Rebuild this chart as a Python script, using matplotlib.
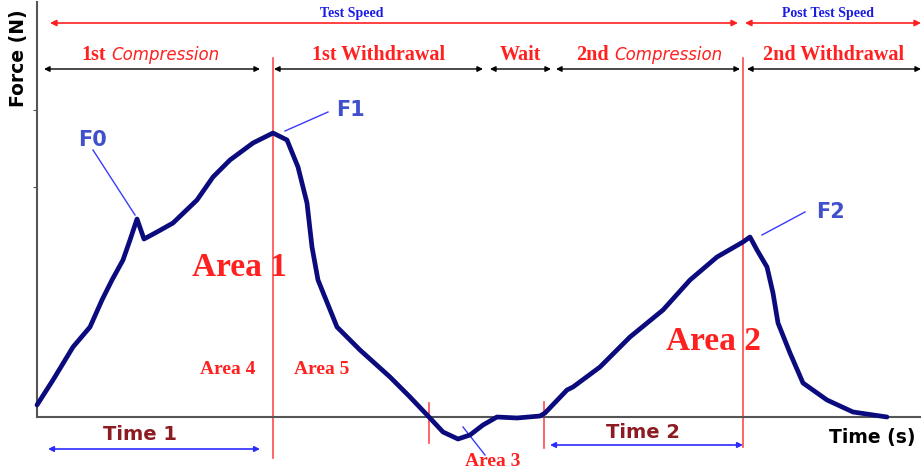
import matplotlib.pyplot as plt
import numpy as np

# -------------------------
# Data: force-time curve (arbitrary units)
# -------------------------
time_s = [0.0, 1.6, 3.6, 5.3, 6.5, 7.5, 8.6, 9.3, 10.0, 10.7, 12.0, 13.6, 16.0,
          17.6, 19.3, 21.6, 23.6, 25.0, 26.1, 27.0, 27.5, 28.1, 30.0, 32.3,
          35.3, 37.3, 39.2, 40.6, 42.1, 43.3, 44.6, 46.0, 48.0, 50.3, 50.8,
          53.0, 53.6, 56.3, 59.3, 62.6, 65.3, 68.0, 70.6, 71.3, 72.0, 73.0,
          73.6, 74.1, 75.3, 76.6, 79.0, 81.6, 85.0]
force_n = [1.2, 3.7, 7.0, 9.0, 11.7, 13.7, 15.7, 17.7, 19.8, 17.8, 18.5, 19.4, 21.7,
           24.0, 25.7, 27.4, 28.4, 27.7, 25.0, 21.4, 17.0, 13.7, 9.0, 6.7,
           4.0, 2.0, 0.0, -1.5, -2.2, -1.8, -0.8, 0.0, -0.1, 0.1, 0.4,
           2.7, 3.0, 5.0, 8.0, 10.7, 13.7, 16.0, 17.5, 18.0, 16.7, 15.0,
           12.4, 9.4, 6.4, 3.4, 1.7, 0.5, 0.0]

# phase segments (start, end) along the time axis
phase_names = ['1st Withdrawal', 'Wait', '2nd Withdrawal']
phase_spans = [(23.7, 44.6), (45.3, 51.4), (71.0, 88.4)]
compression_spans = [(0.7, 22.3), (51.9, 70.3)]
speed_names = ['Test Speed', 'Post Test Speed']
speed_spans = [(1.3, 70.1), (70.8, 88.4)]
speed_label_x = [31.5, 79.1]

# marker lines
long_marks = [23.6, 70.6]
short_marks = [39.2, 50.7]

RED = '#ff2020'
LINE_RED = '#ff4a4a'
NAVY = '#0b0b7e'
FBLUE = '#4050cc'
DARKRED = '#8c1c22'
serif = 'Liberation Serif'

fig = plt.figure(figsize=(9.21, 4.70), dpi=100)
ax = fig.add_axes([0, 0, 1, 1])
ax.set_xlim(-3.7, 88.4)
ax.set_ylim(-5.3, 41.7)

# axes lines
for s in ['top', 'right']:
    ax.spines[s].set_visible(False)
ax.spines['left'].set_position(('data', 0))
ax.spines['bottom'].set_position(('data', 0))
ax.spines['left'].set_bounds(0, 41.5)
ax.spines['bottom'].set_bounds(0, 88.4)
for s in ['left', 'bottom']:
    ax.spines[s].set_color('#555555')
    ax.spines[s].set_linewidth(1.5)
ax.set_xticks([])
ax.set_yticks([23.0, 30.7])
ax.set_yticklabels([])
ax.tick_params(axis='y', length=3, color='#555555')

# red marker lines
ax.plot([long_marks[0]] * 2, [-4.1, 35.9], color=LINE_RED, lw=1.2, zorder=1)
ax.plot([long_marks[1]] * 2, [-3.0, 35.9], color=LINE_RED, lw=1.2, zorder=1)
ax.plot([short_marks[0]] * 2, [-2.6, 1.4], color=LINE_RED, lw=1.2, zorder=1)
ax.plot([short_marks[1]] * 2, [-3.1, 1.5], color=LINE_RED, lw=1.2, zorder=1)

# curve
ax.plot(time_s, force_n, color=NAVY, lw=3.4, solid_capstyle='round',
        solid_joinstyle='round', zorder=3)

# speed arrows (top row)
for (a, b), name, lx in zip(speed_spans, speed_names, speed_label_x):
    ax.annotate('', xy=(a, 39.4), xytext=(b, 39.4),
                arrowprops=dict(arrowstyle='<|-|>', color=RED, lw=1.2,
                                mutation_scale=9, shrinkA=0, shrinkB=0))
    ax.text(lx, 40.3, name, color='#1a1ae6', fontsize=10, fontweight='bold',
            family=serif, ha='center', va='center')

# phase arrows (second row)
for (a, b) in phase_spans + compression_spans:
    ax.annotate('', xy=(a, 34.8), xytext=(b, 34.8),
                arrowprops=dict(arrowstyle='<|-|>', color='black', lw=1.0,
                                mutation_scale=8, shrinkA=0, shrinkB=0))
for (a, b), name in zip(phase_spans, phase_names):
    ax.text((a + b) / 2, 36.2, name, color=RED, fontsize=14.5, fontweight='bold',
            family=serif, ha='center', va='center')
for x0, pre in [(6.9, '1st'), (57.2, '2nd')]:
    ax.text(x0, 36.2, pre, color=RED, fontsize=14.5, fontweight='bold',
            family=serif, ha='right', va='center')
    ax.text(x0 + 0.5, 36.2, 'Compression', color=RED, fontsize=12,
            style='italic', family='DejaVu Sans', ha='left', va='center')

# axis titles
ax.text(-1.9, 35.9, 'Force (N)', rotation=90, fontsize=13.5, fontweight='bold',
        ha='center', va='center')
ax.text(83.5, -2.0, 'Time (s)', fontsize=13.5, fontweight='bold',
        ha='center', va='center')

# peak labels
ax.text(5.6, 27.7, 'F0', color=FBLUE, fontsize=15, fontweight='bold', ha='center', va='center')
ax.text(31.3, 30.7, 'F1', color=FBLUE, fontsize=15, fontweight='bold', ha='center', va='center')
ax.text(79.3, 20.5, 'F2', color=FBLUE, fontsize=15, fontweight='bold', ha='center', va='center')
ax.plot([5.6, 9.8], [26.7, 20.2], color='#3a3aff', lw=1)
ax.plot([24.8, 29.1], [28.6, 30.5], color='#3a3aff', lw=1)
ax.plot([72.5, 76.8], [18.2, 20.5], color='#3a3aff', lw=1)
ax.plot([42.6, 44.8], [-1.0, -3.8], color='#3a3aff', lw=1)

# area labels
ax.text(20.2, 14.9, 'Area 1', color=RED, fontsize=24, fontweight='bold',
        family=serif, ha='center', va='center')
ax.text(67.6, 7.5, 'Area 2', color=RED, fontsize=24, fontweight='bold',
        family=serif, ha='center', va='center')
ax.text(19.1, 4.7, 'Area 4', color=RED, fontsize=14, fontweight='bold',
        family=serif, ha='center', va='center')
ax.text(28.5, 4.7, 'Area 5', color=RED, fontsize=14, fontweight='bold',
        family=serif, ha='center', va='center')
ax.text(45.6, -4.5, 'Area 3', color=RED, fontsize=14, fontweight='bold',
        family=serif, ha='center', va='center')

# time labels and arrows
ax.text(10.3, -1.7, 'Time 1', color=DARKRED, fontsize=14, fontweight='bold',
        ha='center', va='center')
ax.text(60.6, -1.5, 'Time 2', color=DARKRED, fontsize=14, fontweight='bold',
        ha='center', va='center')
ax.annotate('', xy=(1.1, -3.2), xytext=(22.3, -3.2),
            arrowprops=dict(arrowstyle='<|-|>', color='#2b2bff', lw=1.2,
                            mutation_scale=8, shrinkA=0, shrinkB=0))
ax.annotate('', xy=(51.3, -2.8), xytext=(70.6, -2.8),
            arrowprops=dict(arrowstyle='<|-|>', color='#2b2bff', lw=1.2,
                            mutation_scale=8, shrinkA=0, shrinkB=0))

plt.savefig('out.png', dpi=100)
